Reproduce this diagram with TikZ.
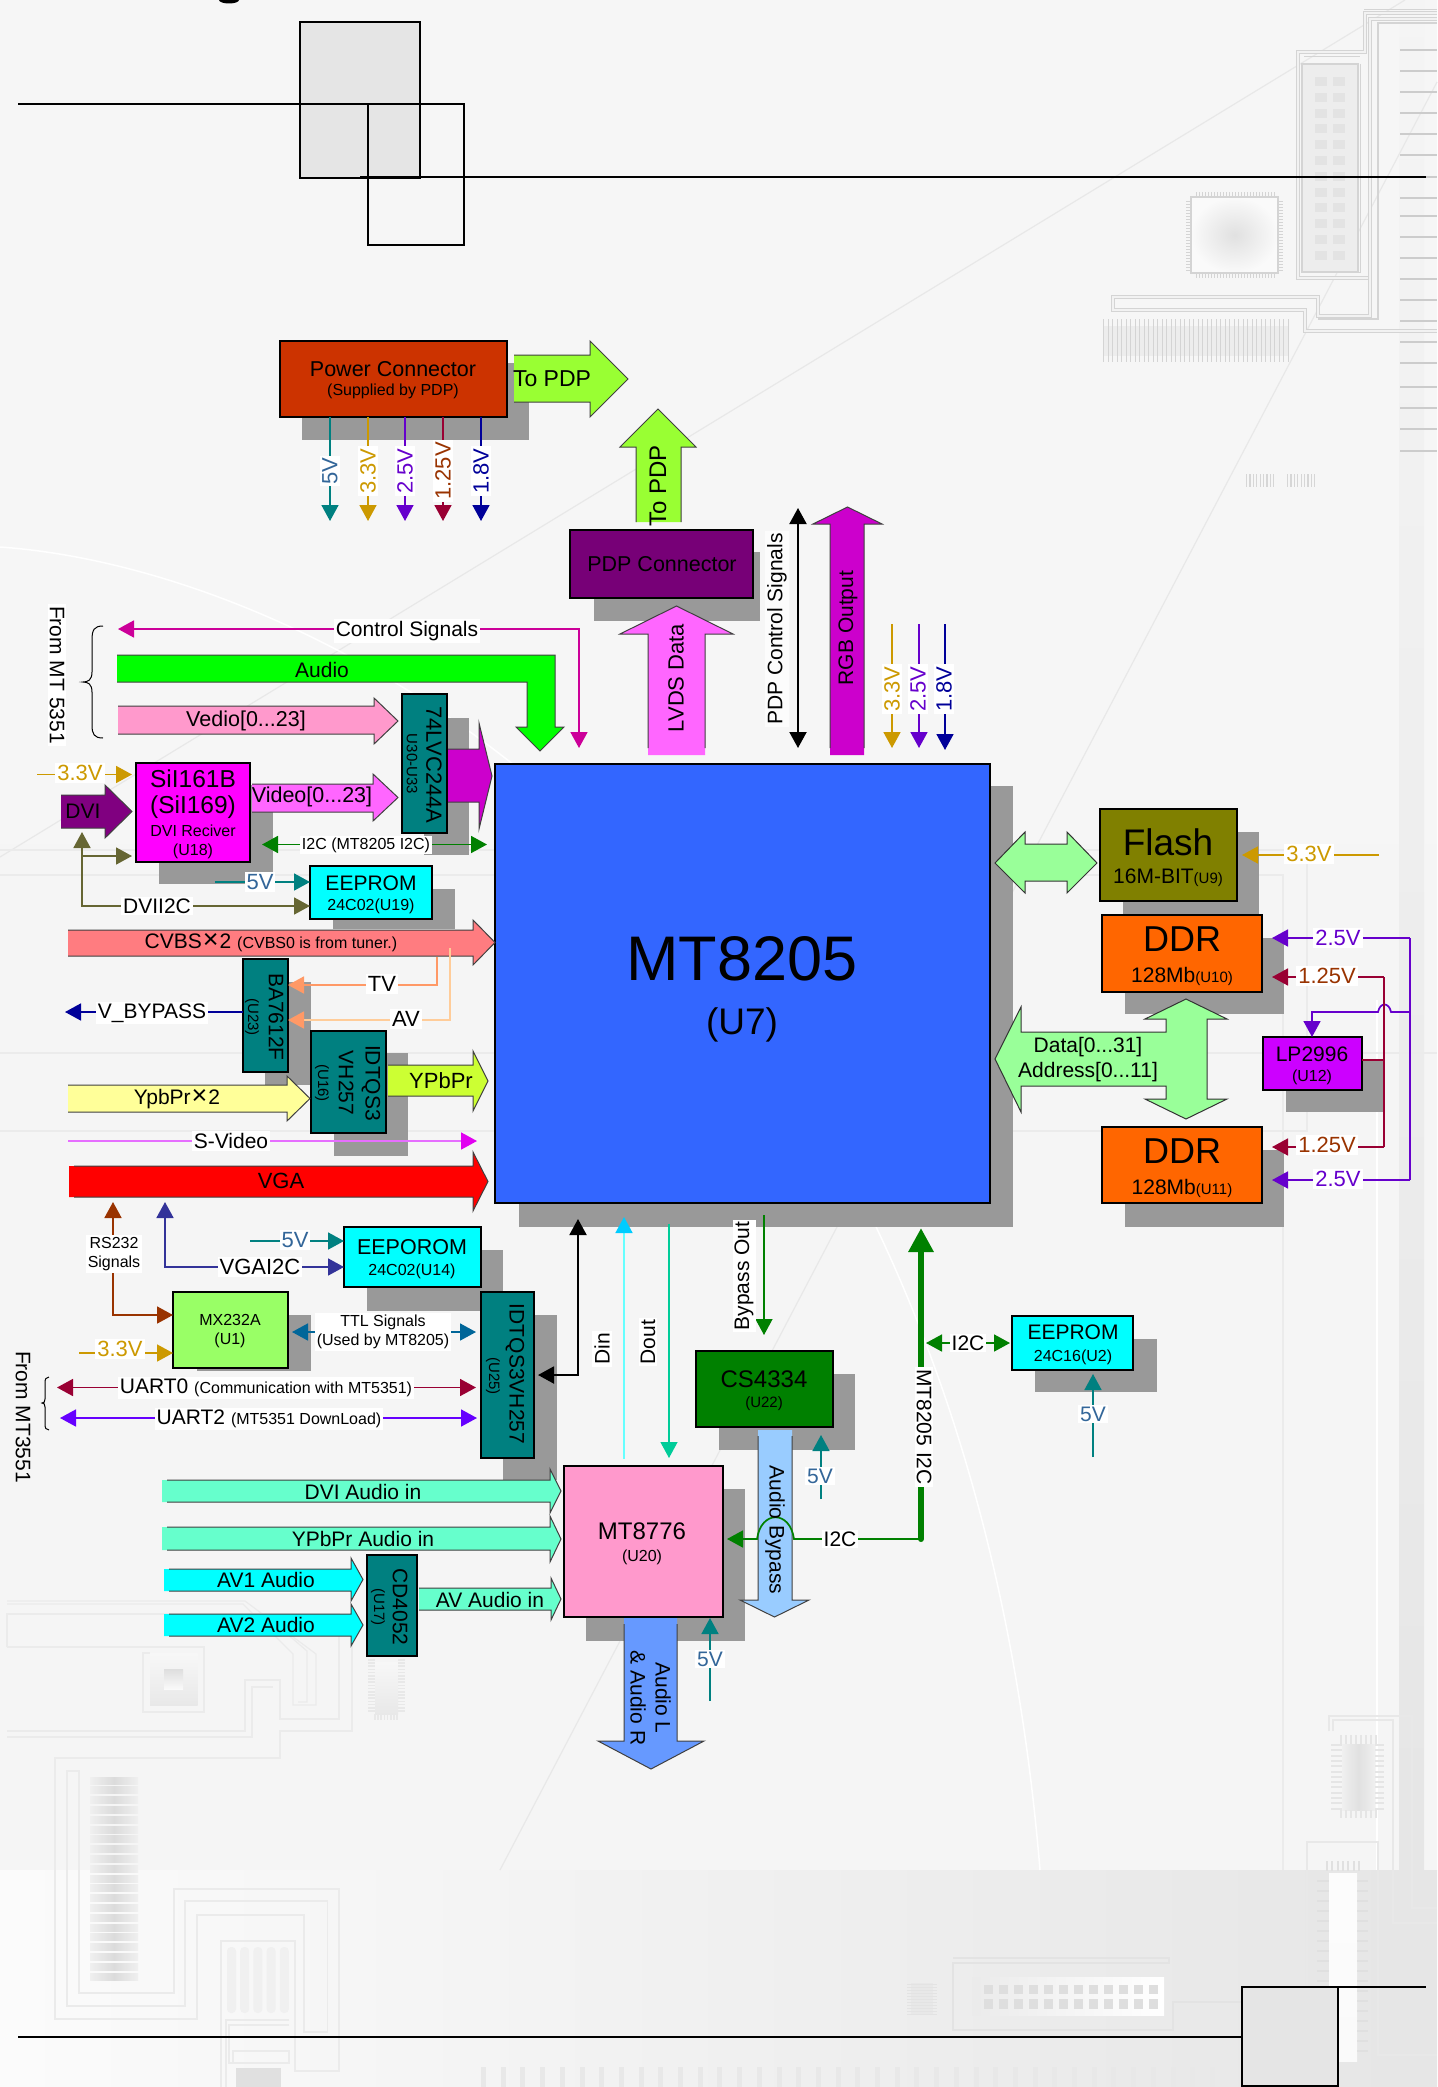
\documentclass[tikz,border=0pt]{standalone}
\usepackage{fontspec}
\setmainfont{Liberation Sans}
\usetikzlibrary{arrows.meta,calc}
\newcommand\fsz[1]{\fontsize{#1}{#1}\selectfont}
\definecolor{cTeal}{HTML}{008080}
\definecolor{cBlu}{HTML}{336699}
\definecolor{cAmb}{HTML}{CC9900}
\definecolor{cVio}{HTML}{6600CC}
\definecolor{cWin}{HTML}{990033}
\definecolor{cBrn}{HTML}{993300}
\definecolor{cNav}{HTML}{000099}
\definecolor{cGrn}{HTML}{008000}
\definecolor{cPnk}{HTML}{CC0099}
\definecolor{cOli}{HTML}{666633}
\definecolor{cFnt}{HTML}{EBEBEB}
\definecolor{cFn2}{HTML}{D4D4D4}
\definecolor{hRed}{HTML}{CC3300}
\definecolor{hPur}{HTML}{770077}
\definecolor{hBlu}{HTML}{3366FF}
\definecolor{hMag}{HTML}{FF00FF}
\definecolor{hCya}{HTML}{00FFFF}
\definecolor{hLim}{HTML}{99FF66}
\definecolor{hPnk}{HTML}{FF99CC}
\definecolor{hOli}{HTML}{808000}
\definecolor{hOra}{HTML}{FF6600}
\definecolor{hLPp}{HTML}{CC00FF}
\definecolor{hYG}{HTML}{99FF33}
\definecolor{hVi}{HTML}{FF66FF}
\definecolor{hRGB}{HTML}{CC00CC}
\definecolor{hDVI}{HTML}{800080}
\definecolor{hCV}{HTML}{FF7C80}
\definecolor{hYP}{HTML}{CCFF33}
\definecolor{hYel}{HTML}{FFFF99}
\definecolor{hMin}{HTML}{66FFCC}
\definecolor{hSky}{HTML}{99CCFF}
\definecolor{hCor}{HTML}{6699FF}
\definecolor{hLG}{HTML}{99FF99}
\definecolor{lTVc}{HTML}{FF9966}
\definecolor{lAVc}{HTML}{FFCC99}
\definecolor{lSVc}{HTML}{E66EFF}
\definecolor{lSVh}{HTML}{E100F0}
\definecolor{lVGc}{HTML}{333399}
\definecolor{lTTc}{HTML}{006699}
\definecolor{lUBc}{HTML}{6600FF}
\definecolor{lDIc}{HTML}{66FFFF}
\definecolor{lDIh}{HTML}{00CCFF}
\definecolor{lDOc}{HTML}{00CC99}
\newcommand\shd[4]{\fill[fill=black!40] (#1,#2) rectangle (#3,#4);}
\newcommand\bx[6]{\node (#1) [draw=black,line width=1.1pt,fill=#6,inner sep=0pt,outer sep=0pt,anchor=north west,minimum width=\dimexpr #4pt-#2pt\relax,minimum height=\dimexpr #5pt-#3pt\relax] at (#2,#3) {};}
\def\sgap{0}
\def\vgapp{0}
% right block arrow: x1 x2 xhead ybody1 ybody2 yhead1 yhead2 fill
\newcommand\rbar[8]{\fill[fill=#8] (#1,#4) -- (#3,#4) -- (#3,#6) -- (#2,{(#6+#7)/2}) -- (#3,#7) -- (#3,#5) -- (#1,#5) -- cycle;
 \draw[barrow] (#1+\sgap,#4) -- (#3,#4) -- (#3,#6) -- (#2,{(#6+#7)/2}) -- (#3,#7) -- (#3,#5) -- (#1+\sgap,#5);}
% vertical block arrow: ystart ytip yhead xbody1 xbody2 xhead1 xhead2 fill
\newcommand\vbar[8]{\fill[fill=#8] (#4,#1) -- (#4,#3) -- (#6,#3) -- ({(#6+#7)/2},#2) -- (#7,#3) -- (#5,#3) -- (#5,#1) -- cycle;
 \draw[barrow] (#4,#1+\vgapp) -- (#4,#3) -- (#6,#3) -- ({(#6+#7)/2},#2) -- (#7,#3) -- (#5,#3) -- (#5,#1+\vgapp);}
\begin{document}
\begin{tikzpicture}[x=1pt,y=-1pt,
  >={Triangle[length=16pt,width=17pt]},
  conn/.style={line width=1.7pt},
  barrow/.style={draw=black!75,line width=1pt,line join=miter},
  wl/.style={fill=white,inner sep=2pt,yshift=-1pt},
  tl/.style={inner sep=0pt,yshift=-1pt},
  f21/.style={font=\fsz{21}},
  f22/.style={font=\fsz{22}},
  f24/.style={font=\fsz{24}},
  f16/.style={font=\fsz{16}},
  f15/.style={font=\fsz{15}},
  trace/.style={draw=cFnt,line width=1.2pt},
  dbl/.style={draw=cFn2,line width=1.1pt,double=black!5,double distance=2.6pt,line join=miter}]
\useasboundingbox (0,0) rectangle (1437,2087);
% ---------- background
\shade[top color=black!3.5,middle color=black!1,bottom color=black!4] (0,0) rectangle (1437,1870);
\shade[top color=black!4,bottom color=black!10] (1399,0) rectangle (1424,1870);
\shade[left color=black!1.5,right color=black!10] (0,1870) rectangle (1437,2087);
\draw[black!9,line width=1.2pt] (1405,0) -- (0,857);
\draw[black!9,line width=1.2pt] (1437,82) -- (500,1870);
\draw[white,line width=1.5pt] (0,547) .. controls (330,570) and (960,900) .. (1040,1870);
\draw[white,line width=1.5pt] (1377,1000) -- (1377,1870);
\foreach \yy in {50,71,92,113,134,155,177,198,216,237,258,279,300,321,342,363,387,408,429,451}
  \fill[black!20] (1400,\yy-1.4) rectangle (1437,\yy+1.4);
\draw[dbl] (1437,13) -- (1365,13) -- (1365,52) -- (1298,52) -- (1298,278) -- (1369,278);
\draw[dbl] (1437,19) -- (1370,19) -- (1370,316) -- (1318,316) -- (1318,297) -- (1113,297) -- (1113,310) -- (1305,310) -- (1305,331) -- (1437,331);
\draw[cFn2,line width=1pt] (1437,10) -- (1364,10);
\draw[cFn2,line width=1.2pt] (1437,23) -- (1378,23) -- (1378,319) -- (1318,319);
\draw[cFn2,line width=1pt] (1304,57) -- (1360,57);
\draw[cFn2,line width=1.2pt,fill=black!7] (1302,64) rectangle (1358,272);
\draw[cFn2,line width=1pt] (1360,64) -- (1360,272) -- (1302,272);
\foreach \yy in {0,...,11} {
  \fill[black!11] (1315,77+\yy*15.8) rectangle (1327,86+\yy*15.8);
  \fill[black!11] (1333,77+\yy*15.8) rectangle (1345,86+\yy*15.8);}
\shade[inner color=black!12,outer color=black!2,draw=cFn2,line width=1.5pt] (1191,197) rectangle (1278,273);
\foreach \xx in {0,...,26} {\fill[cFn2] (1196+\xx*3,192.5) rectangle (1197.2+\xx*3,197); \fill[cFn2] (1196+\xx*3,273) rectangle (1197.2+\xx*3,277.5);}
\foreach \yy in {0,...,23} {\fill[cFn2] (1186,201+\yy*3) rectangle (1191,202.2+\yy*3); \fill[cFn2] (1278,201+\yy*3) rectangle (1283,202.2+\yy*3);}
\fill[black!7] (1103,326) rectangle (1289,356);
\foreach \xx in {0,...,41} \fill[cFn2] (1103+\xx*4.5,319) rectangle (1104+\xx*4.5,362);
\foreach \xx in {0,...,8} \fill[black!16] (1246+\xx*3.4,474) rectangle (1247.2+\xx*3.4,487);
\foreach \xx in {0,...,8} \fill[black!16] (1287+\xx*3.4,474) rectangle (1288.2+\xx*3.4,487);
% faint traces in the middle
\draw[trace] (0,850) -- (1307,850) -- (1307,1131) -- (0,1131);
\draw[trace] (0,875) -- (1283,875) -- (1283,1870);
\draw[trace] (0,1053) -- (1437,1053);
% faint bottom-left
\draw[trace] (7,1601) -- (245,1601) -- (316,1654) -- (316,1705) -- (293,1705) -- (293,1654) -- (243,1604) -- (7,1604);
\draw[trace] (264,1614) -- (307,1651) -- (307,1702) -- (298,1702);
\draw[trace] (7,1647) -- (7,1614) -- (339,1614) -- (339,1719) -- (280,1719) -- (280,1680) -- (245,1680) -- (245,1731) -- (7,1731);
\draw[trace] (7,1647) -- (204,1647) -- (204,1712) -- (143,1712) -- (143,1653) -- (150,1653);
\draw[trace] (7,1737) -- (252,1737) -- (252,1687) -- (273,1687);
\draw[trace] (352,1636) -- (352,1731) -- (280,1731) -- (280,1758) -- (55,1758) -- (55,2019) -- (197,2019) -- (197,1915) -- (304,1915) -- (304,2032) -- (327.5,2032) -- (327.5,1901) -- (185,1901) -- (185,2006) -- (67,2006) -- (67,1771) -- (79,1771) -- (79,1993) -- (174,1993) -- (174,1889) -- (339,1889) -- (339,2071) -- (295,2071) -- (295,1941) -- (221,1941) -- (221,2087);
\draw[trace] (289,2020) -- (226,2020) -- (226,2087);
\draw[trace] (289,2025) -- (229,2025) -- (229,2063) -- (289,2063);
\draw[trace] (233,2051) rectangle (289,2063);
\shade[top color=black!3,bottom color=black!9] (150,1653) rectangle (197.5,1705.5);
\shade[top color=black!13,bottom color=black!2] (164,1669) rectangle (183,1689);
\shade[top color=black!3,bottom color=black!9] (375,1662) rectangle (398,1714);
\foreach \yy in {0,...,16} {\fill[black!9] (368,1659+\yy*3.2) rectangle (375,1660.5+\yy*3.2); \fill[black!9] (398,1659+\yy*3.2) rectangle (405,1660.5+\yy*3.2);}
\foreach \xx in {0,...,7} \fill[black!9] (374+\xx*3.2,1714) rectangle (375.5+\xx*3.2,1720);
\foreach \yy in {0,...,20} \shade[left color=black!6,right color=black!6,middle color=black!14] (90,1777+\yy*9.8) rectangle (138,1784+\yy*9.8);
\foreach \xx in {0,...,4} \fill[black!6,rounded corners=4pt] (227+\xx*13.2,1947) rectangle (236+\xx*13.2,2013);
\fill[black!12] (236,2068) rectangle (281,2087);
\foreach \xx in {0,...,37} \fill[black!9] (481+\xx*19.7,2067) rectangle (486+\xx*19.7,2087);
% bottom right
\draw[trace,black!11] (953,1958) -- (1169,1958) -- (1169,1963) -- (953,1963) -- (953,2030) -- (1173,2030) -- (1173,2002) -- (1242,2002);
\shade[left color=black!8,right color=white] (972,1977) rectangle (1164,2015);
\foreach \xx in {0,...,11} {
  \fill[black!13] (984+\xx*15,1985) rectangle (993+\xx*15,1994);
  \fill[black!13] (984+\xx*15,1999) rectangle (993+\xx*15,2009);}
\fill[black!9] (911,1983) rectangle (933,2015);
\foreach \yy in {0,...,10} {\fill[black!11] (907,1984+\yy*3) rectangle (937,1985+\yy*3);}
\draw[trace,black!9] (1329,1731) -- (1329,1716) -- (1412,1716) -- (1412,1908) -- (1437,1908);
\draw[trace,black!9] (1333,1731) -- (1333,1720) -- (1393,1720) -- (1393,1923) -- (1437,1923);
\shade[left color=black!6,right color=black!6,middle color=black!12] (1342,1744) rectangle (1375,1810);
\foreach \yy in {0,...,12} {\fill[black!10] (1331,1744+\yy*5.3) rectangle (1342,1746+\yy*5.3); \fill[black!10] (1375,1744+\yy*5.3) rectangle (1384,1746+\yy*5.3);}
\foreach \xx in {0,...,7} {\fill[black!10] (1340+\xx*5,1735) rectangle (1342+\xx*5,1744); \fill[black!10] (1340+\xx*5,1810) rectangle (1342+\xx*5,1818);}
\draw[trace,black!9] (1307,2087) -- (1307,1842) -- (1378,1842) -- (1378,2055) -- (1437,2055);
\shade[top color=black!1,middle color=black!10,bottom color=black!2] (1329,1873) rectangle (1357,2061);
\foreach \yy in {0,...,17} {\fill[black!12] (1317,1880+\yy*10) rectangle (1329,1881.5+\yy*10); \fill[black!12] (1357,1880+\yy*10) rectangle (1368,1881.5+\yy*10);}
\foreach \xx in {0,...,6} {\fill[black!12] (1326+\xx*5.3,1861) rectangle (1328+\xx*5.3,1871);}
% ---------- black frames at top and bottom
\fill[black] (229,0) ellipse (10 and 3.5);
\draw[fill=black!10,line width=1.6pt] (300,22) rectangle (420,178);
\draw[line width=1.6pt] (368,104) rectangle (464,245);
\coordinate (frA) at (18,104); \coordinate (frB) at (464,104);
\draw[line width=2pt] (frA) -- (frB);
\coordinate (frC) at (360,177.5); \coordinate (frD) at (1426,177.5);
\draw[line width=2pt] (frC) -- (frD);
\draw[fill=black!10,line width=1.6pt] (1242,1987) rectangle (1338,2086);
\coordinate (frE) at (18,2037); \coordinate (frF) at (1242,2037);
\draw[line width=2pt] (frE) -- (frF);
\coordinate (frG) at (1338,1987); \coordinate (frH) at (1426,1987);
\draw[line width=2pt] (frG) -- (frH);
% ---------- shadows
\shd{302}{363}{529}{440}
\shd{594}{552}{760}{621}
\shd{519}{786}{1013}{1227}
\shd{424}{718}{469}{855}
\shd{159}{785}{273}{884}
\shd{333}{889}{455}{929}
\shd{265}{982}{311}{1085}
\shd{334}{1053}{408}{1156}
\shd{367}{1250}{503}{1311}
\shd{197}{1315}{311}{1371}
\shd{503}{1315}{557}{1480}
\shd{719}{1374}{855}{1450}
\shd{586}{1489}{745}{1641}
\shd{1035}{1339}{1157}{1392}
\shd{1123}{832}{1259}{915}
\shd{1125}{938}{1284}{1014}
\shd{1125}{1150}{1284}{1227}
\shd{1286}{1060}{1383}{1112}
% ---------- boxes
\bx{pc}{280}{341}{507}{417}{hRed}
\bx{pdp}{570}{530}{753}{598}{hPur}
\bx{mt}{495}{764}{990}{1203}{hBlu}
\bx{lvc}{402}{694}{447}{833}{cTeal}
\bx{sil}{136}{763}{250}{862}{hMag}
\bx{ee19}{310}{866}{432}{919}{hCya}
\bx{ba}{243}{959}{288}{1072}{cTeal}
\bx{idt}{311}{1031}{386}{1133}{cTeal}
\bx{ee14}{344}{1227}{481}{1287}{hCya}
\bx{mx}{173}{1292}{288}{1368}{hLim}
\bx{u25}{481}{1292}{534}{1458}{cTeal}
\bx{cs}{696}{1351}{833}{1427}{cGrn}
\bx{ee2}{1012}{1316}{1133}{1370}{hCya}
\bx{mt76}{564}{1466}{723}{1617}{hPnk}
\bx{cd}{367}{1555}{417}{1656}{cTeal}
\bx{fl}{1100}{809}{1237}{901}{hOli}
\bx{ddrA}{1102}{915}{1262}{992}{hOra}
\bx{ddrB}{1102}{1127}{1262}{1203}{hOra}
\bx{lp}{1263}{1037}{1362}{1090}{hLPp}
% ---------- block arrows
\rbar{514}{628}{590}{355}{402}{341}{417}{hYG}
\vbar{522}{409}{447}{636}{681}{620}{696}{hYG}
\def\vgapp{-7}
\vbar{755}{606}{634}{648}{705}{620}{733}{hVi}
\vbar{755}{507}{524}{830}{864}{813}{882}{hRGB}
\def\vgapp{0}
\fill[fill=green] (117,655) -- (555,655) -- (555,727) -- (564,727) -- (540,751) -- (516,727) -- (527,727) -- (527,682) -- (117,682) -- cycle;
\draw[barrow] (117,655) -- (555,655) -- (555,727) -- (564,727) -- (540,751) -- (516,727) -- (527,727) -- (527,682) -- (117,682);
\rbar{118}{398}{374}{706}{734}{698}{744}{hPnk}
\rbar{448}{492}{479}{749}{802}{723}{829}{hRGB}
\rbar{61}{132}{105}{795}{828}{785}{838}{hDVI}
\rbar{252}{398}{373}{784}{812}{774}{821}{hVi}
\rbar{68}{495}{473}{930}{956}{920}{965}{hCV}
\rbar{388}{488}{473}{1065}{1096}{1051}{1111}{hYP}
\rbar{68}{310}{287}{1085}{1112}{1076}{1121}{hYel}
\def\sgap{5}
\rbar{69}{488}{473}{1166}{1197}{1152}{1211}{red}
\rbar{162}{561}{550}{1480}{1502}{1469}{1513}{hMin}
\rbar{162}{561}{550}{1527}{1550}{1516}{1562}{hMin}
\rbar{164}{363}{351}{1569}{1591}{1558}{1601}{hCya}
\rbar{164}{363}{351}{1614}{1636}{1604}{1646}{hCya}
\def\sgap{0}
\rbar{419}{561}{551}{1588}{1610}{1578}{1620}{hMin}
\def\vgapp{6}
\vbar{1430}{1617}{1600}{758}{792}{740}{809}{hSky}
\vbar{1618}{1769}{1741}{624}{677}{598}{704}{hCor}
\def\vgapp{0}
% double arrow at flash
\path[fill=hLG,draw=black!80,line width=1pt] (995,863) -- (1025,832) -- (1025,844) -- (1067,844) -- (1067,832) -- (1097,863) -- (1067,893) -- (1067,881) -- (1025,881) -- (1025,893) -- cycle;
% data/address arrow
\path[fill=hLG,draw=black!80,line width=1pt] (995,1059) -- (1021,1007) -- (1021,1032) -- (1166,1032) -- (1166,1019) -- (1145,1019) -- (1186,999) -- (1227,1019) -- (1207,1019) -- (1207,1099) -- (1227,1099) -- (1186,1119) -- (1145,1099) -- (1166,1099) -- (1166,1086) -- (1021,1086) -- (1021,1112) -- cycle;
% ---------- connectors
% power rails
\coordinate (e1) at (330,521); \coordinate (e2) at (368,521); \coordinate (e3) at (405,521); \coordinate (e4) at (443,521); \coordinate (e5) at (481,521);
\draw[conn,cTeal,->] (pc.south -| e1) -- (e1);
\draw[conn,cAmb,->] (pc.south -| e2) -- (e2);
\draw[conn,cVio,->] (pc.south -| e3) -- (e3);
\draw[conn,cWin,->] (pc.south -| e4) -- (e4);
\draw[conn,cNav,->] (pc.south -| e5) -- (e5);
% pdp control, voltages
\coordinate (pc1) at (798,508); \coordinate (pc2) at (798,748);
\draw[line width=2pt,<->] (pc1) -- (pc2);
\coordinate (v1a) at (892,624); \coordinate (v1b) at (892,748);
\coordinate (v2a) at (919,624); \coordinate (v2b) at (919,748);
\coordinate (v3a) at (945,624); \coordinate (v3b) at (945,750);
\draw[conn,cAmb,->] (v1a) -- (v1b);
\draw[conn,cVio,->] (v2a) -- (v2b);
\draw[conn,cNav,->] (v3a) -- (v3b);
% control signals
\coordinate (cs1) at (118,629); \coordinate (cs2) at (579,629); \coordinate (cs3) at (579,748);
\draw[conn,cPnk,<->] (cs1) -- (cs2) -- (cs3);
% 3.3V on SiI
\coordinate (a33) at (37,774.5);
\coordinate (b33) at (132,774.5);
\draw[conn,cAmb,->] (a33) -- (b33);
% I2C
\coordinate (i2a) at (262,844.5); \coordinate (i2b) at (487,844.5);
\draw[conn,cGrn,<->] (i2a) -- (i2b);
% olive
\coordinate (olT) at (82,832); \coordinate (olB) at (82,906); \coordinate (olS) at (82,856); \coordinate (olR) at (132,856);
\draw[conn,cOli,<->] (olT) -- (olB) -- (ee19.west |- olB);
\draw[conn,cOli,->] (olS) -- (olR);
% 5V to U19
\coordinate (fv19) at (215,882);
\draw[conn,cTeal,->] (fv19) -- (ee19.west |- fv19);
% TV / AV
\coordinate (tv1) at (437,957); \coordinate (tv2) at (437,985);
\draw[conn,lTVc,->] (tv1) -- (tv2) -- (ba.east |- tv2);
\coordinate (av1) at (450,948); \coordinate (av2) at (450,1020);
\draw[conn,lAVc,-{Triangle[length=16pt,width=17pt,color=lTVc]}] (av1) -- (av2) -- (ba.east |- av2);
% V_BYPASS
\coordinate (vb) at (65,1012);
\draw[conn,cNav,->] (ba.west |- vb) -- (vb);
% S-Video
\coordinate (sv1) at (68,1141); \coordinate (sv2) at (477,1141);
\draw[conn,lSVc,-{Triangle[length=16pt,width=17pt,color=lSVh]}] (sv1) -- (sv2);
% RS232
\coordinate (rs1) at (113,1202); \coordinate (rs2) at (113,1315);
\draw[conn,cBrn,<->] (rs1) -- (rs2) -- (mx.west |- rs2);
% VGAI2C
\coordinate (vg1) at (165,1202); \coordinate (vg2) at (165,1267);
\draw[conn,lVGc,<->] (vg1) -- (vg2) -- (ee14.west |- vg2);
% 5V to U14
\coordinate (fv14) at (250,1241);
\draw[conn,cTeal,->] (fv14) -- (ee14.west |- fv14);
% TTL
\coordinate (ttl) at (383,1332);
\draw[conn,lTTc,<->] ($(mx.east |- ttl)+(4,0)$) -- ($(u25.west |- ttl)+(-5,0)$);
% 3.3V to MX
\coordinate (a33m) at (79,1353);
\draw[conn,cAmb,->] (a33m) -- (mx.west |- a33m);
% UART
\coordinate (ua1) at (57,1387.5); \coordinate (ub1) at (60,1418);
\draw[conn,cWin,<->] (ua1) -- ($(u25.west |- ua1)+(-5,0)$);
\draw[conn,lUBc,<->] (ub1) -- ($(u25.west |- ub1)+(-4,0)$);
% black U25 - MT
\coordinate (bk1) at (578,1219); \coordinate (bk2) at (578,1375);
\draw[line width=2pt,<->] (bk1) -- (bk2) -- ($(u25.east |- bk2)+(4,0)$);
% Din Dout Bypass
\coordinate (din1) at (624,1459); \coordinate (din2) at (624,1217);
\draw[conn,lDIc,-{Triangle[length=16pt,width=17pt,color=lDIh]}] (din1) -- (din2);
\coordinate (do1) at (669,1224); \coordinate (do2) at (669,1458);
\draw[line width=1.2pt,lDOc,->] (do1) -- (do2);
\coordinate (by1) at (764,1215); \coordinate (by2) at (764,1335);
\draw[line width=1.2pt,cGrn,->] (by1) -- (by2);
% 5V to CS4334, MT8776, EEPROM
\coordinate (cs5a) at (821,1499); \coordinate (cs5b) at (821,1435);
\draw[conn,cTeal,->] (cs5a) -- (cs5b);
\coordinate (mt5a) at (710,1701); \coordinate (mt5b) at (710,1618);
\draw[conn,cTeal,->] (mt5a) -- (mt5b);
\coordinate (ee5a) at (1093,1457); \coordinate (ee5b) at (1093,1374);
\draw[conn,cTeal,->] (ee5a) -- (ee5b);
% MT8205 I2C
\coordinate (bus1) at (921,1539); \coordinate (bus2) at (921,1228); \coordinate (bus3) at (921,1250);
\draw[line width=6pt,cGrn,line cap=round] (bus1) -- (bus3);
\draw[cGrn,line width=6pt,-{Triangle[length=24pt,width=24pt]}] (bus3) -- (bus2);
\draw[conn,cGrn,->] (bus1) -- (794,1539) .. controls (790,1510) and (761,1510) .. (757,1539) -- (727,1539);
\coordinate (i2l) at (926,1343);
\coordinate (i2r) at (1010,1343);
\draw[conn,cGrn,<->] (i2l) -- (i2r);
% Flash 3.3
\coordinate (fl33) at (1379,855); \coordinate (fl33b) at (1242,855);
\draw[conn,cAmb,->] (fl33) -- (fl33b);
% DDR supply
\coordinate (t25) at (1410,938); \coordinate (b25) at (1410,1180);
\coordinate (t25h) at (1272,938); \coordinate (b25h) at (1272,1180);
\draw[conn,cVio,->] (t25) -- (t25h);
\draw[conn,cVio,->] (b25) -- (b25h);
\draw[conn,cVio] (t25) -- (b25);
\coordinate (t12) at (1384,977); \coordinate (b12) at (1384,1147);
\coordinate (t12h) at (1272,977); \coordinate (b12h) at (1272,1147);
\coordinate (lpx) at (1312,1012);
\coordinate (lpy) at (1384,1060);
\draw[conn,cVio,->] (1410,1012) -- (1391,1012) .. controls (1389,1002) and (1380,1002) .. (1378,1012) -- (lpx) -- (lp.north -| lpx);
\draw[conn,cWin,->] (t12) -- (t12h);
\draw[conn,cWin,->] (b12) -- (b12h);
\draw[conn,cWin] (t12) -- (b12);
\draw[conn,cWin] (lp.east |- lpy) -- (lpy);
% braces
\draw[line width=1pt] (103,626) .. controls (94,626) and (92,630) .. (92,640) -- (92,672) .. controls (92,680) and (88,682) .. (83,682) .. controls (88,682) and (92,684) .. (92,692) -- (92,725) .. controls (92,734) and (94,738) .. (103,738);
\draw[line width=1pt] (49,1377) .. controls (46,1377) and (45,1379) .. (45,1383) -- (45,1399) .. controls (45,1402) and (44,1403) .. (42,1403) .. controls (44,1403) and (45,1404) .. (45,1407) -- (45,1424) .. controls (45,1428) and (46,1430) .. (49,1430);
% ---------- labels: box texts
\node (tPC) [tl,font=\fsz{21.5}] at (393,368) {Power Connector};
\node (tPCs) [tl,f16] at (393,390) {(Supplied by PDP)};
\node (tPD1) [tl,font=\fsz{23}] at (552,378) {To PDP};
\node (tPD2) [tl,f24,rotate=90] at (658,485) {To PDP};
\node (tPDP) [tl,font=\fsz{21.5}] at (662,563) {PDP Connector};
\node (tLV) [tl,f22,rotate=90] at (676,677) {LVDS Data};
\node (tPCS) [wl,fill=black!1,f21,rotate=90] at (777,628) {PDP Control Signals};
\node (tRGB) [tl,f21,rotate=90] at (848,627) {RGB Output};
\node (tMT) [tl,font=\fsz{63}] at (742,958) {MT8205};
\node (tU7) [tl,font=\fsz{37}] at (742,1024) {(U7)};
\node (tAud) [tl,f21] at (322,669) {Audio};
\node (tVed) [tl,font=\fsz{21.5}] at (246,720) {Vedio[0...23]};
\node (t74) [tl,f22,rotate=-90] at (434,764) {74LVC244A};
\node (t30) [tl,f15,rotate=-90] at (412,763) {U30-U33};
\node (tSi1) [tl,font=\fsz{24.5}] at (193,778) {SiI161B};
\node (tSi2) [tl,font=\fsz{24.5}] at (193,806) {(SiI169)};
\node (tSi3) [tl,f16] at (193,830) {DVI Reciver};
\node (tSi4) [tl,f16] at (193,850) {(U18)};
\node (tDVI) [tl,f21] at (83,810) {DVI};
\node (tVid) [tl,font=\fsz{21.5}] at (312,796) {Video[0...23]};
\node (tE19) [tl,f21] at (371,882) {EEPROM};
\node (tE19b) [tl,f16] at (371,905) {24C02(U19)};
\node (tCV) [tl,f21] at (271,942) {CVBS\hspace{1pt}{\fsz{27}×}\hspace{1pt}2 \fsz{16}(CVBS0 is from tuner.)};
\node (tBA) [tl,f21,rotate=-90] at (276,1016) {BA7612F};
\node (tBAu) [tl,f15,rotate=-90] at (252,1016) {(U23)};
\node (tI1) [tl,f21,rotate=-90] at (371,1082) {IDTQS3};
\node (tI2) [tl,f21,rotate=-90] at (346,1082) {VH257};
\node (tI3) [tl,f15,rotate=-90] at (322,1082) {(U16)};
\node (tYP) [tl,f22] at (441,1080) {YPbPr};
\node (tYPx) [tl,f21] at (177,1098) {YpbPr\hspace{1pt}{\fsz{27}×}\hspace{1pt}2};
\node (tVGA) [tl,f22] at (281,1180) {VGA};
\node (tE14) [tl,font=\fsz{21.5}] at (412,1246) {EEPOROM};
\node (tE14b) [tl,f16] at (412,1270) {24C02(U14)};
\node (tMX) [tl,f16] at (230,1319) {MX232A};
\node (tMXb) [tl,f16] at (230,1339) {(U1)};
\node (tU25) [tl,f21,rotate=-90] at (515,1373) {IDTQS3VH257};
\node (tU25b) [tl,f15,rotate=-90] at (493,1375) {(U25)};
\node (tCS) [tl,f24] at (764,1378) {CS4334};
\node (tCSb) [tl,f15] at (764,1403) {(U22)};
\node (tAB) [tl,f21,rotate=-90] at (775,1529) {Audio Bypass};
\node (tE2) [tl,f21] at (1073,1331) {EEPROM};
\node (tE2b) [tl,f16] at (1073,1356) {24C16(U2)};
\node (t76) [tl,f24] at (642,1530) {MT8776};
\node (t76b) [tl,f16] at (642,1556) {(U20)};
\node (tAL) [tl,f21,rotate=-90] at (663,1697) {Audio L};
\node (tAR) [tl,f21,rotate=-90] at (638,1697) {\&\ Audio R};
\node (tDA) [tl,f21] at (363,1491) {DVI Audio in};
\node (tYA) [tl,f21] at (363,1538) {YPbPr Audio in};
\node (tA1) [tl,f21] at (266,1579) {AV1 Audio};
\node (tA2) [tl,f21] at (266,1624) {AV2 Audio};
\node (tCD) [tl,f21,rotate=-90] at (400,1606) {CD4052};
\node (tCDb) [tl,f15,rotate=-90] at (378,1606) {(U17)};
\node (tAVi) [tl,f21] at (490,1599) {AV Audio in};
\node (tFl) [tl,font=\fsz{37}] at (1168,841) {Flash};
\node (tFlb) [tl,f21] at (1168,877) {16M-BIT\fsz{15}(U9)};
\node (tD1) [tl,font=\fsz{36}] at (1182,938) {DDR};
\node (tD1b) [tl,f21] at (1182,975) {128Mb\fsz{15}(U10)};
\node (tD2) [tl,font=\fsz{36}] at (1182,1150) {DDR};
\node (tD2b) [tl,f21] at (1182,1187) {128Mb\fsz{15}(U11)};
\node (tDat) [tl,f21] at (1088,1046) {Data[0...31]};
\node (tAdr) [tl,f21] at (1088,1071) {Address[0...11]};
\node (tLP) [tl,f21] at (1312,1053) {LP2996};
\node (tLPb) [tl,f16] at (1312,1076) {(U12)};
% ---------- labels on connectors
\node (l1) [wl,f22,text=cBlu,rotate=90] at (330,470) {5V};
\node (l2) [wl,f22,text=cAmb,rotate=90] at (368,470) {3.3V};
\node (l3) [wl,f22,text=cVio,rotate=90] at (405,470) {2.5V};
\node (l4) [wl,f22,text=cBrn,rotate=90] at (443,470) {1.25V};
\node (l5) [wl,f22,text=cNav,rotate=90] at (481,470) {1.8V};
\node (l6) [wl,f22,text=cAmb,rotate=90] at (892,688) {3.3V};
\node (l7) [wl,f22,text=cVio,rotate=90] at (918,688) {2.5V};
\node (l8) [wl,f22,text=cNav,rotate=90] at (944,688) {1.8V};
\node (lCS) [wl,f21] at (407,630) {Control Signals};
\node (lFr) [wl,f21,rotate=-90] at (57,674) {From MT 5351};
\node (l33) [wl,f22,text=cAmb] at (80,772) {3.3V};
\node (lI2) [wl,f16] at (366,844) {I2C (MT8205 I2C)};
\node (l5a) [wl,f22,text=cBlu] at (260,881) {5V};
\node (lDV) [wl,f21] at (157,905) {DVII2C};
\node (lTV) [wl,f22] at (382,983) {TV};
\node (lAV) [wl,f22] at (406,1018) {AV};
\node (lVB) [wl,f21] at (152,1012) {V\_BYPASS};
\node (lSV) [wl,f21] at (231,1140) {S-Video};
\node (lRS) [wl,f16,align=center] at (114,1253) {RS232\\[3pt]Signals};
\node (lVG) [wl,f22] at (260,1266) {VGAI2C};
\node (l5b) [wl,f22,text=cBlu] at (295,1239) {5V};
\node (lTT) [wl,f16,align=center] at (383,1331) {TTL Signals\\[3pt](Used by MT8205)};
\node (l33b) [wl,f22,text=cAmb] at (120,1348) {3.3V};
\node (lU0) [wl,f21] at (266,1387) {UART0 \fsz{16}(Communication with MT5351)};
\node (lU2) [wl,f21] at (269,1418) {UART2 \fsz{16}(MT5351 DownLoad)};
\node (lFr2) [tl,f21,rotate=-90] at (23,1416) {From MT3551};
\node (lDin) [wl,f21,rotate=90] at (602,1348) {Din};
\node (lDo) [wl,f21,rotate=90] at (648,1341) {Dout};
\node (lBy) [wl,f21,rotate=90] at (744,1275) {Bypass Out};
\node (l5c) [wl,f21,text=cBlu] at (820,1475) {5V};
\node (l5d) [wl,f21,text=cBlu] at (710,1658) {5V};
\node (l5e) [wl,f21,text=cBlu] at (1093,1413) {5V};
\node (lMI) [wl,f21,rotate=-90] at (924,1426) {MT8205 I2C};
\node (lI2a) [wl,f21] at (840,1538) {I2C};
\node (lI2b) [wl,f21] at (968,1342) {I2C};
\node (l33c) [wl,f22,text=cAmb] at (1309,853) {3.3V};
\node (lr1) [wl,f22,text=cVio] at (1338,937) {2.5V};
\node (lr2) [wl,f22,text=cBrn] at (1327,975) {1.25V};
\node (lr3) [wl,f22,text=cBrn] at (1327,1144) {1.25V};
\node (lr4) [wl,f22,text=cVio] at (1338,1178) {2.5V};
\end{tikzpicture}
\end{document}
